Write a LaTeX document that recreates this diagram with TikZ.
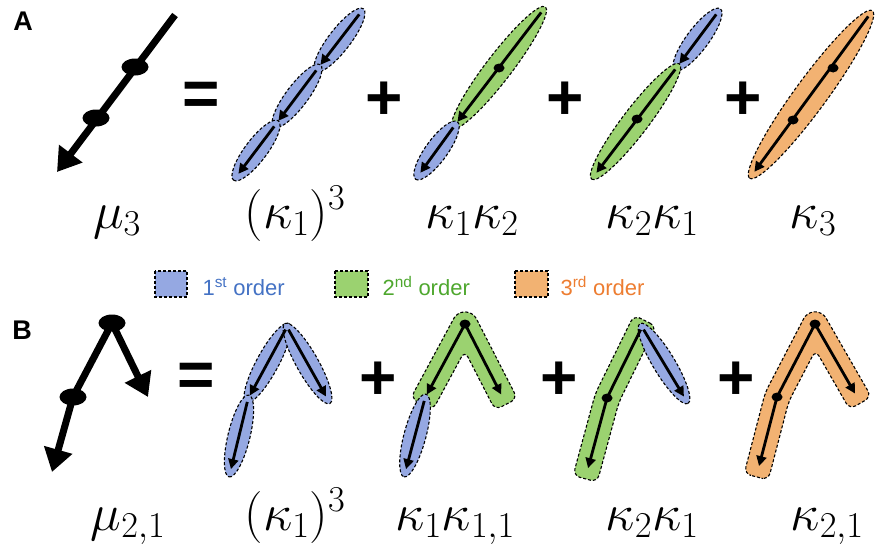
\RequirePackage{fix-cm}
\documentclass[tikz,border=0pt]{standalone}
\usepackage{fontspec}
\setsansfont{Liberation Sans}
\usetikzlibrary{calc,arrows.meta}

\definecolor{firstfill}{HTML}{95A8E2}
\definecolor{secondfill}{HTML}{9BD270}
\definecolor{thirdfill}{HTML}{F2B272}
\definecolor{firsttext}{HTML}{4472C4}
\definecolor{secondtext}{HTML}{4EA72E}
\definecolor{thirdtext}{HTML}{ED7D31}

% dashed ellipse round one stretch of the chain
\newcommand{\segblob}[4][11]{%
  \draw[blob, fill=#2] let \p1=($(#4)-(#3)$) in ($(#3)!0.5!(#4)$)
    ellipse [x radius={veclen(\x1,\y1)/2+4pt}, y radius=#1pt,
    rotate={atan2(\y1,\x1)}];}

\begin{document}
\begin{tikzpicture}[x=1pt, y=-1pt,
    blob/.style={draw=black, line width=1.1pt, dash pattern=on 3pt off 2pt},
    arr/.style={line width=2.8pt, -{Triangle[length=10pt,width=10pt]},
      shorten <=3pt, shorten >=4pt},
    bigarr/.style={line width=7pt, -{Triangle[length=23pt,width=28pt]}},
    bigdot/.style={x radius=13.5, y radius=8.5},
    smalldot/.style={x radius=5.5, y radius=4.5},
    lab/.style={anchor=base, font=\fontsize{52}{60}\selectfont},
    sign/.style={inner sep=0pt, font=\fontsize{64}{70}\selectfont\sffamily\bfseries},
    leg/.style={anchor=base west, font=\fontsize{22}{26}\selectfont\sffamily},
    panel/.style={font=\fontsize{27}{30}\selectfont\sffamily\bfseries}]
  \useasboundingbox (0,0) rectangle (875,554);
  \def\hw{12.5pt}
  \def\ext{7pt}

  \node[panel] (pA) at (23,21) {A};
  \node[panel] (pB) at (22,330) {B};

  % ---------------- A: straight chain
  \coordinate (m0) at (175,15);
  \coordinate (m1) at (135,67);
  \coordinate (m2) at (96,118);
  \coordinate (m3) at (57,172);
  \draw[bigarr] (m0) -- (m3);
  \fill (m1) ellipse [bigdot];
  \fill (m2) ellipse [bigdot];

  \coordinate (a0) at (361,12);
  \coordinate (a1) at (318,68);
  \coordinate (a2) at (276,124);
  \coordinate (a3) at (236,177);
  \segblob{firstfill}{a0}{a1}
  \segblob{firstfill}{a1}{a2}
  \segblob{firstfill}{a2}{a3}
  \draw[arr] (a0) -- (a1);
  \draw[arr] (a1) -- (a2);
  \draw[arr] (a2) -- (a3);

  \coordinate (b0) at (543,10);
  \coordinate (b1) at (499,68);
  \coordinate (b2) at (455,125);
  \coordinate (b3) at (418,176);
  \segblob[13]{secondfill}{b0}{b2}
  \segblob{firstfill}{b2}{b3}
  \draw[arr] (b0) -- (b2);
  \draw[arr] (b2) -- (b3);
  \fill (b1) ellipse [smalldot];

  \coordinate (c0) at (718,12);
  \coordinate (c1) at (677,67);
  \coordinate (c2) at (637,119);
  \coordinate (c3) at (594,176);
  \segblob{firstfill}{c0}{c1}
  \segblob[13]{secondfill}{c1}{c3}
  \draw[arr] (c0) -- (c1);
  \draw[arr] (c1) -- (c3);
  \fill (c2) ellipse [smalldot];

  \coordinate (d0) at (870,14);
  \coordinate (d1) at (833,68);
  \coordinate (d2) at (793,120);
  \coordinate (d3) at (752,175);
  \segblob[16]{thirdfill}{d0}{d3}
  \draw[arr] (d0) -- (d3);
  \fill (d1) ellipse [smalldot];
  \fill (d2) ellipse [smalldot];

  \node[sign] (eqA) at (201,99) {=};
  \node[sign] (plA1) at (384,101) {+};
  \node[sign] (plA2) at (565,101) {+};
  \node[sign] (plA3) at (743,101) {+};

  \node[lab] (muA) at (117,228) {$\mu_3$};
  \node[lab] (kaA1) at (295,228) {$(\kappa_1)^3$};
  \node[lab] (kaA2) at (472,228) {$\kappa_1\kappa_2$};
  \node[lab] (kaA3) at (652,228) {$\kappa_2\kappa_1$};
  \node[lab] (kaA4) at (813,228) {$\kappa_3$};

  % ---------------- legend
  \draw[blob, fill=firstfill] (155,271) rectangle (187,297);
  \node[leg, text=firsttext] (lg1) at (199,295) {1\textsuperscript{st} order};
  \draw[blob, fill=secondfill] (335,271) rectangle (368,297);
  \node[leg, text=secondtext] (lg2) at (379,295) {2\textsuperscript{nd} order};
  \draw[blob, fill=thirdfill] (515,271) rectangle (548,297);
  \node[leg, text=thirdtext] (lg3) at (557,295) {3\textsuperscript{rd} order};

  % ---------------- B: branched chain
  \coordinate (n0) at (112,323);
  \coordinate (n1) at (73,397);
  \coordinate (n2) at (52,472);
  \coordinate (n3) at (148,397);
  \draw[bigarr, line join=round] (n0) -- (n1) -- (n2);
  \draw[bigarr] (n0) -- (n3);
  \fill (n0) ellipse [bigdot];
  \fill (n1) ellipse [bigdot];

  \coordinate (p0) at (287,327);
  \coordinate (p1) at (248,399);
  \coordinate (p2) at (230,473);
  \coordinate (p3) at (328,400);
  \segblob{firstfill}{p0}{p1}
  \segblob{firstfill}{p0}{p3}
  \segblob{firstfill}{p1}{p2}
  \draw[arr] (p0) -- (p1);
  \draw[arr] (p0) -- (p3);
  \draw[arr] (p1) -- (p2);

  \coordinate (q0) at (465,324);
  \coordinate (q1) at (425,398);
  \coordinate (q2) at (405,473);
  \coordinate (q3) at (503,398);
  \coordinate (lo1) at ($(q0)!\hw!-90:(q1)$);
  \coordinate (lo2) at ($(q1)!\hw!90:(q0)$);
  \coordinate (li1) at ($(q0)!\hw!90:(q1)$);
  \coordinate (li2) at ($(q1)!\hw!-90:(q0)$);
  \coordinate (ro1) at ($(q0)!\hw!90:(q3)$);
  \coordinate (ro2) at ($(q3)!\hw!-90:(q0)$);
  \coordinate (ri1) at ($(q0)!\hw!-90:(q3)$);
  \coordinate (ri2) at ($(q3)!\hw!90:(q0)$);
  \draw[blob, fill=secondfill, rounded corners=7pt] ($(q1)!-\ext!(q0)$)
    -- ($(lo2)!-\ext!(lo1)$) -- ($(lo1)!-\ext!(lo2)$) -- ($(ro1)!-\ext!(ro2)$)
    -- ($(ro2)!-\ext!(ro1)$) -- ($(ri2)!-\ext!(ri1)$)
    -- (intersection of li1--li2 and ri1--ri2) -- ($(li2)!-\ext!(li1)$) -- cycle;
  \segblob{firstfill}{q1}{q2}
  \draw[arr] (q0) -- (q1);
  \draw[arr] (q0) -- (q3);
  \draw[arr] (q1) -- (q2);
  \fill (q0) ellipse [smalldot];

  \coordinate (r0) at (642,327);
  \coordinate (r1) at (607,398);
  \coordinate (r2) at (587,472);
  \coordinate (r3) at (686,400);
  \coordinate (tl) at ($(r0)!\hw!-90:(r1)$);
  \coordinate (ml1) at ($(r1)!\hw!90:(r0)$);
  \coordinate (ml2) at ($(r1)!\hw!-90:(r2)$);
  \coordinate (bl) at ($(r2)!\hw!90:(r1)$);
  \coordinate (tr) at ($(r0)!\hw!90:(r1)$);
  \coordinate (mr1) at ($(r1)!\hw!-90:(r0)$);
  \coordinate (mr2) at ($(r1)!\hw!90:(r2)$);
  \coordinate (br) at ($(r2)!\hw!-90:(r1)$);
  \draw[blob, fill=secondfill, rounded corners=7pt] ($(r0)!-\ext!(r1)$)
    -- ($(tl)!-\ext!(ml1)$) -- (intersection of tl--ml1 and ml2--bl)
    -- ($(bl)!-\ext!(ml2)$) -- ($(br)!-\ext!(mr2)$)
    -- (intersection of tr--mr1 and mr2--br) -- ($(tr)!-\ext!(mr1)$) -- cycle;
  \segblob{firstfill}{r0}{r3}
  \draw[arr, line join=round] (r0) -- (r1) -- (r2);
  \draw[arr] (r0) -- (r3);
  \fill (r1) ellipse [smalldot];

  \coordinate (s0) at (815,324);
  \coordinate (s1) at (777,397);
  \coordinate (s2) at (758,470);
  \coordinate (s3) at (857,397);
  \coordinate (tl) at ($(s0)!\hw!-90:(s1)$);
  \coordinate (ml1) at ($(s1)!\hw!90:(s0)$);
  \coordinate (ml2) at ($(s1)!\hw!-90:(s2)$);
  \coordinate (bl) at ($(s2)!\hw!90:(s1)$);
  \coordinate (tr) at ($(s0)!\hw!90:(s1)$);
  \coordinate (mr1) at ($(s1)!\hw!-90:(s0)$);
  \coordinate (mr2) at ($(s1)!\hw!90:(s2)$);
  \coordinate (br) at ($(s2)!\hw!-90:(s1)$);
  \coordinate (ro1) at ($(s0)!\hw!90:(s3)$);
  \coordinate (ro2) at ($(s3)!\hw!-90:(s0)$);
  \coordinate (ri1) at ($(s0)!\hw!-90:(s3)$);
  \coordinate (ri2) at ($(s3)!\hw!90:(s0)$);
  \draw[blob, fill=thirdfill, rounded corners=7pt] ($(s2)!-\ext!(s1)$)
    -- ($(bl)!-\ext!(ml2)$) -- (intersection of tl--ml1 and ml2--bl)
    -- ($(tl)!-\ext!(ml1)$) -- ($(ro1)!-\ext!(ro2)$) -- ($(ro2)!-\ext!(ro1)$)
    -- ($(ri2)!-\ext!(ri1)$) -- (intersection of ri1--ri2 and tr--mr1)
    -- (intersection of tr--mr1 and mr2--br) -- ($(br)!-\ext!(mr2)$) -- cycle;
  \draw[arr, line join=round] (s0) -- (s1) -- (s2);
  \draw[arr] (s0) -- (s3);
  \fill (s0) ellipse [smalldot];
  \fill (s1) ellipse [smalldot];

  \node[sign] (eqB) at (196,380) {=};
  \node[sign] (plB1) at (378,381) {+};
  \node[sign] (plB2) at (559,381) {+};
  \node[sign] (plB3) at (736,381) {+};

  \node[lab] (muB) at (128,530) {$\mu_{2,1}$};
  \node[lab] (kaB1) at (295,530) {$(\kappa_1)^3$};
  \node[lab] (kaB2) at (455,530) {$\kappa_1\kappa_{1,1}$};
  \node[lab] (kaB3) at (652,530) {$\kappa_2\kappa_1$};
  \node[lab] (kaB4) at (827,530) {$\kappa_{2,1}$};
\end{tikzpicture}
\end{document}
